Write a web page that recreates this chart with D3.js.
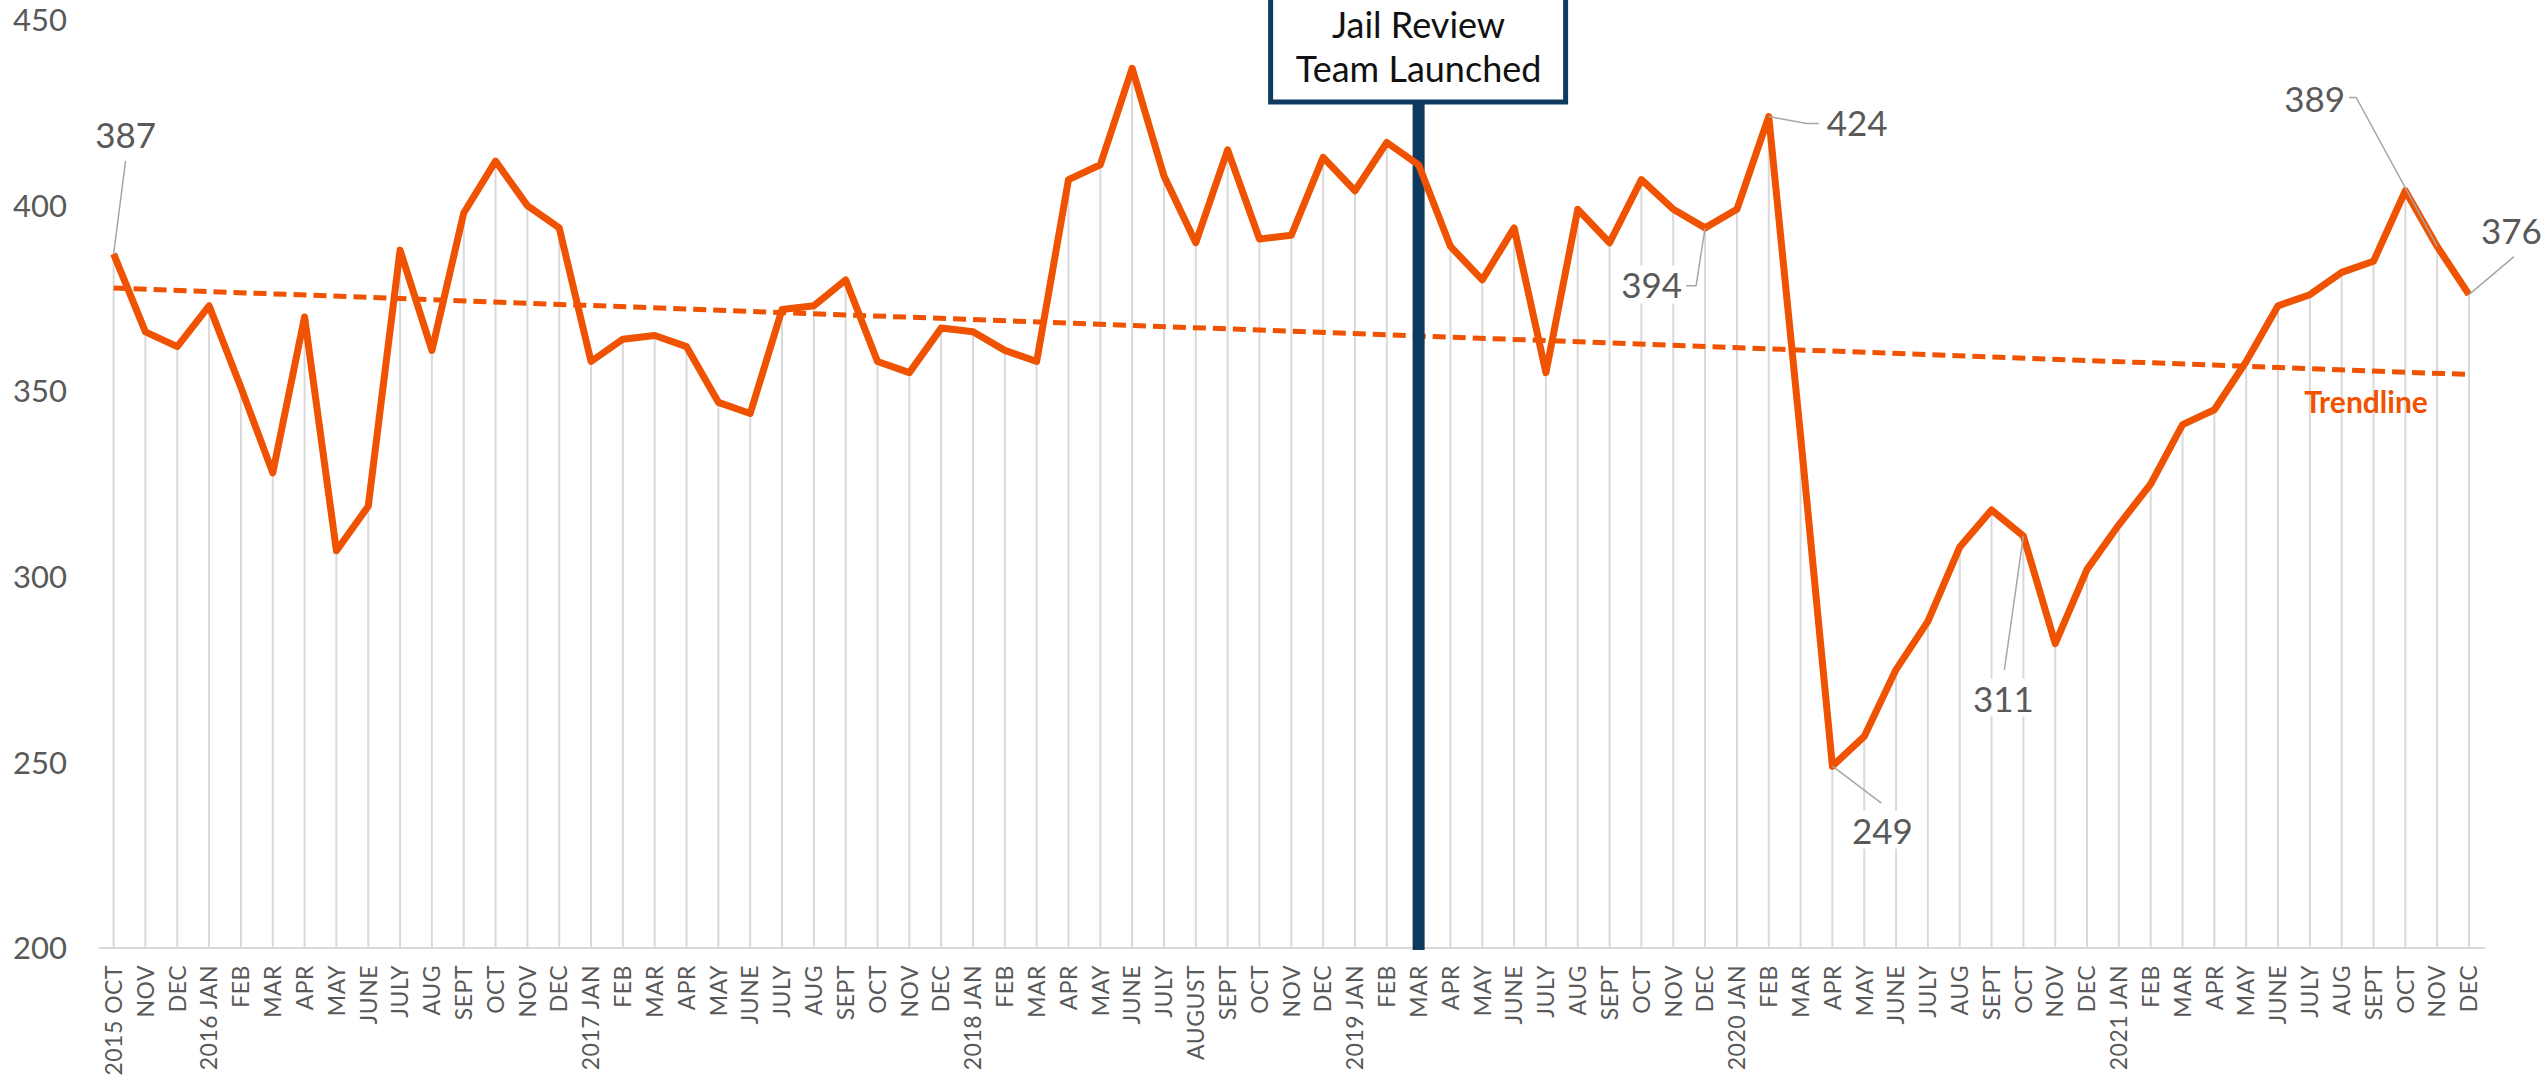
<!DOCTYPE html>
<html>
<head>
<meta charset="utf-8">
<script src="https://cdn.jsdelivr.net/npm/d3@7/dist/d3.min.js"></script>
<style>
  html, body { margin: 0; padding: 0; background: #fff; overflow: hidden; }
  svg { display: block; }
</style>
</head>
<body>
<div id="chart"></div>
<script>
// monthly labels, Oct 2015 - Dec 2021
const months = [
  '2015 OCT', 'NOV', 'DEC',
  '2016 JAN', 'FEB', 'MAR', 'APR', 'MAY', 'JUNE', 'JULY', 'AUG', 'SEPT', 'OCT', 'NOV', 'DEC',
  '2017 JAN', 'FEB', 'MAR', 'APR', 'MAY', 'JUNE', 'JULY', 'AUG', 'SEPT', 'OCT', 'NOV', 'DEC',
  '2018 JAN', 'FEB', 'MAR', 'APR', 'MAY', 'JUNE', 'JULY', 'AUGUST', 'SEPT', 'OCT', 'NOV', 'DEC',
  '2019 JAN', 'FEB', 'MAR', 'APR', 'MAY', 'JUNE', 'JULY', 'AUG', 'SEPT', 'OCT', 'NOV', 'DEC',
  '2020 JAN', 'FEB', 'MAR', 'APR', 'MAY', 'JUNE', 'JULY', 'AUG', 'SEPT', 'OCT', 'NOV', 'DEC',
  '2021 JAN', 'FEB', 'MAR', 'APR', 'MAY', 'JUNE', 'JULY', 'AUG', 'SEPT', 'OCT', 'NOV', 'DEC'
];

const population = [
  387, 366, 362,
  373, 351, 328, 370, 307, 319, 388, 361, 398, 412, 400, 394,
  358, 364, 365, 362, 347, 344, 372, 373, 380, 358, 355, 367,
  366, 361, 358, 407, 411, 437, 408, 390, 415, 391, 392, 413,
  404, 417, 411, 389, 380, 394, 355, 399, 390, 407, 399, 394,
  399, 424, 338, 249, 257, 275, 288, 308, 318, 311, 282, 302,
  314, 325, 341, 345, 358, 373, 376, 382, 385, 404, 389, 376
];

// trendline as read at first and last month
const trendValues = [377.8, 354.5];

const yTicks = [200, 250, 300, 350, 400, 450];

const launchIndex = 41; // 2019 MAR
const launchText = ['Jail Review', 'Team Launched'];

// callouts: month index, label offset from point, leader shape
const callouts = [
  { i: 0,  dx: 12,   dy: -118, anchor: 'middle', leader: [[0, 0], [12, -93]] },
  { i: 52, dx: 58,   dy: 7,    anchor: 'start',  leader: [[0, 0], [38, 7], [50, 7]] },
  { i: 50, dx: -23,  dy: 58,   anchor: 'end',    leader: [[0, 0], [-9, 58], [-20, 58]] },
  { i: 54, dx: 50,   dy: 65,   anchor: 'middle', leader: [[0, 0], [49, 37]] },
  { i: 60, dx: -20,  dy: 163,  anchor: 'middle', leader: [[0, 0], [-19, 134]] },
  { i: 73, dx: -92,  dy: -147, anchor: 'end',    leader: [[0, 0], [-81, -149], [-90, -149]] },
  { i: 74, dx: 12,   dy: -63,  anchor: 'start',  leader: [[0, 0], [45, -38]] }
];

const width = 2544;
const height = 1077;
const orange = '#EF5200';
const navy = '#0E3A5F';
const grey = '#595959';
const font = 'Lato, "Open Sans", sans-serif';

const svg = d3.select('#chart').append('svg')
  .attr('width', width)
  .attr('height', height);

const x = d3.scaleLinear().domain([0, months.length - 1]).range([113.6, 2469]);
const y = d3.scaleLinear().domain([200, 450]).range([948, 20]);

// y tick labels only
svg.append('g')
  .selectAll('text')
  .data(yTicks)
  .enter().append('text')
  .attr('x', 67)
  .attr('y', d => y(d))
  .attr('dy', '0.36em')
  .attr('text-anchor', 'end')
  .attr('font-family', font)
  .attr('font-size', '31px')
  .attr('fill', grey)
  .text(d => d);

// drop lines
svg.append('g')
  .selectAll('line')
  .data(population)
  .enter().append('line')
  .attr('x1', (d, i) => x(i))
  .attr('x2', (d, i) => x(i))
  .attr('y1', d => y(d))
  .attr('y2', y(200))
  .attr('stroke', '#D9D9D9')
  .attr('stroke-width', 2);

// axis line
svg.append('line')
  .attr('x1', x(0) - 15)
  .attr('x2', x(months.length - 1) + 16)
  .attr('y1', y(200))
  .attr('y2', y(200))
  .attr('stroke', '#D9D9D9')
  .attr('stroke-width', 2);

// month labels
svg.append('g')
  .selectAll('text')
  .data(months)
  .enter().append('text')
  .attr('transform', (d, i) => `translate(${x(i)},${y(200) + 17}) rotate(-90)`)
  .attr('dy', '0.36em')
  .attr('text-anchor', 'end')
  .attr('font-family', font)
  .attr('font-size', '23px')
  .attr('letter-spacing', '0.5px')
  .attr('fill', grey)
  .text(d => d);

// trendline
svg.append('line')
  .attr('x1', x(0))
  .attr('x2', x(months.length - 1))
  .attr('y1', y(trendValues[0]))
  .attr('y2', y(trendValues[1]))
  .attr('stroke', orange)
  .attr('stroke-width', 5)
  .attr('stroke-dasharray', '13,7');

svg.append('text')
  .attr('x', 2366)
  .attr('y', y(trendValues[1]) + 39)
  .attr('text-anchor', 'middle')
  .attr('font-family', font)
  .attr('font-weight', 'bold')
  .attr('font-size', '30px')
  .attr('fill', orange)
  .text('Trendline');

// launch marker
const lx = x(launchIndex);
svg.append('line')
  .attr('x1', lx)
  .attr('x2', lx)
  .attr('y1', 100)
  .attr('y2', y(200) + 2)
  .attr('stroke', navy)
  .attr('stroke-width', 12);

svg.append('rect')
  .attr('x', lx - 148)
  .attr('y', -10)
  .attr('width', 295)
  .attr('height', 112)
  .attr('fill', '#fff')
  .attr('stroke', navy)
  .attr('stroke-width', 5);

svg.append('g')
  .selectAll('text')
  .data(launchText)
  .enter().append('text')
  .attr('x', lx)
  .attr('y', (d, i) => 38 + i * 44)
  .attr('text-anchor', 'middle')
  .attr('font-family', font)
  .attr('font-size', '36px')
  .attr('fill', '#111')
  .text(d => d);

// main line
const line = d3.line()
  .x((d, i) => x(i))
  .y(d => y(d));

svg.append('path')
  .datum(population)
  .attr('d', line)
  .attr('fill', 'none')
  .attr('stroke', orange)
  .attr('stroke-width', 7)
  .attr('stroke-linejoin', 'round');

// callouts
const cg = svg.append('g');
callouts.forEach(c => {
  const px = x(c.i);
  const py = y(population[c.i]);
  cg.append('path')
    .attr('d', d3.line()(c.leader.map(p => [px + p[0], py + p[1]])))
    .attr('fill', 'none')
    .attr('stroke', '#A6A6A6')
    .attr('stroke-width', 1.5);
  const t = cg.append('text')
    .attr('x', px + c.dx)
    .attr('y', py + c.dy)
    .attr('dy', '0.36em')
    .attr('text-anchor', c.anchor)
    .attr('font-family', font)
    .attr('font-size', '35px')
    .attr('fill', grey)
    .text(population[c.i]);
  const bb = t.node().getBBox();
  cg.insert('rect', () => t.node())
    .attr('x', bb.x - 4)
    .attr('y', bb.y + 2)
    .attr('width', bb.width + 8)
    .attr('height', bb.height - 4)
    .attr('fill', '#fff');
});
</script>
</body>
</html>
